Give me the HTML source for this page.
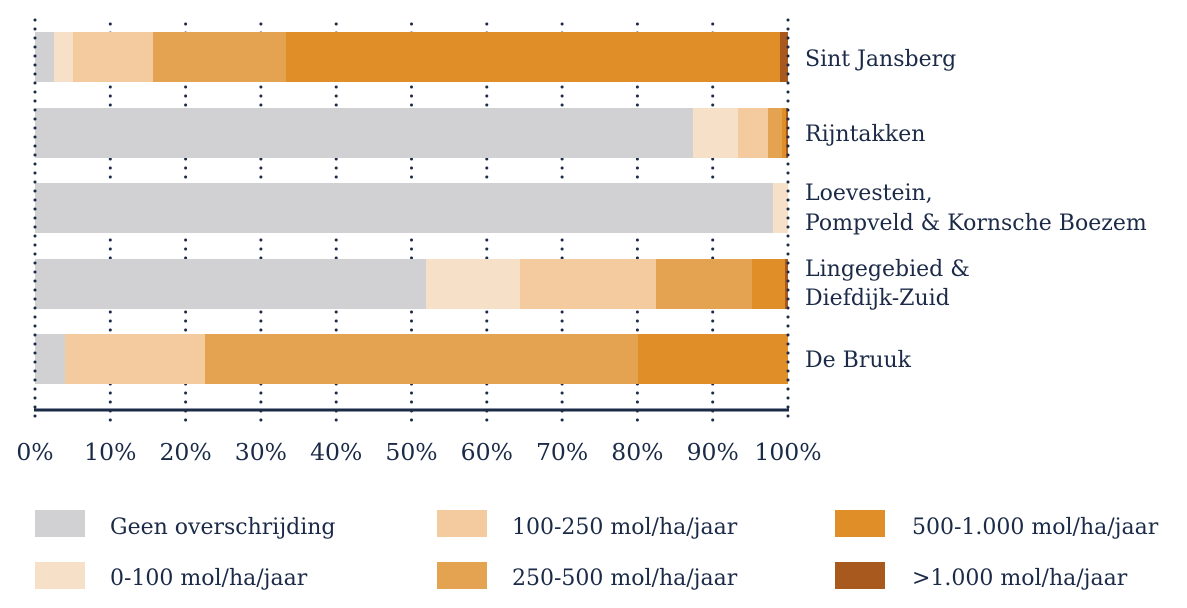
<!DOCTYPE html>
<html><head><meta charset="utf-8"><style>
body{margin:0;width:1187px;height:604px;background:#fff;overflow:hidden;font-family:"DejaVu Serif","Liberation Serif",serif;color:#1b2a47}
</style></head><body>
<svg width="1187" height="604" xmlns="http://www.w3.org/2000/svg">
<g stroke="#1b2a47" stroke-width="3" stroke-dasharray="0 9" stroke-linecap="round">
<line x1="110.3" y1="24" x2="110.3" y2="424"/><line x1="185.6" y1="24" x2="185.6" y2="424"/><line x1="260.9" y1="24" x2="260.9" y2="424"/><line x1="336.2" y1="24" x2="336.2" y2="424"/><line x1="411.5" y1="24" x2="411.5" y2="424"/><line x1="486.8" y1="24" x2="486.8" y2="424"/><line x1="562.1" y1="24" x2="562.1" y2="424"/><line x1="637.4" y1="24" x2="637.4" y2="424"/><line x1="712.7" y1="24" x2="712.7" y2="424"/>
</g>
<rect x="35" y="32" width="19" height="50" fill="#d1d1d3"/><rect x="54" y="32" width="19" height="50" fill="#f7e0c8"/><rect x="73" y="32" width="80" height="50" fill="#f3cb9f"/><rect x="153" y="32" width="133" height="50" fill="#e4a350"/><rect x="286" y="32" width="494" height="50" fill="#df8e28"/><rect x="780" y="32" width="8" height="50" fill="#a85a1e"/>
<rect x="35" y="108" width="658" height="50" fill="#d1d1d3"/><rect x="693" y="108" width="45" height="50" fill="#f7e0c8"/><rect x="738" y="108" width="30" height="50" fill="#f3cb9f"/><rect x="768" y="108" width="14" height="50" fill="#e4a350"/><rect x="782" y="108" width="4" height="50" fill="#df8e28"/><rect x="786" y="108" width="2" height="50" fill="#a85a1e"/>
<rect x="35" y="183" width="738" height="50" fill="#d1d1d3"/><rect x="773" y="183" width="15" height="50" fill="#f7e0c8"/>
<rect x="35" y="259" width="391" height="50" fill="#d1d1d3"/><rect x="426" y="259" width="94" height="50" fill="#f7e0c8"/><rect x="520" y="259" width="136" height="50" fill="#f3cb9f"/><rect x="656" y="259" width="96" height="50" fill="#e4a350"/><rect x="752" y="259" width="33" height="50" fill="#df8e28"/><rect x="785" y="259" width="3" height="50" fill="#a85a1e"/>
<rect x="35" y="334" width="30" height="50" fill="#d1d1d3"/><rect x="65" y="334" width="140" height="50" fill="#f3cb9f"/><rect x="205" y="334" width="433" height="50" fill="#e4a350"/><rect x="638" y="334" width="150" height="50" fill="#df8e28"/>
<g stroke="#1b2a47" stroke-width="3" stroke-dasharray="0 9" stroke-linecap="round">
<line x1="35" y1="20" x2="35" y2="424"/><line x1="788" y1="20" x2="788" y2="424"/>
</g>
<line x1="34" y1="410" x2="789" y2="410" stroke="#1b2a47" stroke-width="3"/>
<g font-size="23.5" fill="#1b2a47" text-anchor="middle">
<text x="35" y="460">0%</text><text x="110.3" y="460">10%</text><text x="185.6" y="460">20%</text><text x="260.9" y="460">30%</text><text x="336.2" y="460">40%</text><text x="411.5" y="460">50%</text><text x="486.8" y="460">60%</text><text x="562.1" y="460">70%</text><text x="637.4" y="460">80%</text><text x="712.7" y="460">90%</text><text x="788" y="460">100%</text>
</g>
<g font-size="22" fill="#1b2a47">
<text x="805" y="66">Sint Jansberg</text>
<text x="805" y="141">Rijntakken</text>
<text x="805" y="200">Loevestein,</text><text x="805" y="230">Pompveld &amp; Kornsche Boezem</text>
<text x="805" y="276">Lingegebied &amp;</text><text x="805" y="305">Diefdijk-Zuid</text>
<text x="805" y="367">De Bruuk</text>
</g>
<rect x="35" y="510" width="50" height="27" fill="#d1d1d3"/><rect x="35" y="562" width="50" height="27" fill="#f7e0c8"/>
<rect x="437" y="510" width="50" height="27" fill="#f3cb9f"/><rect x="437" y="562" width="50" height="27" fill="#e4a350"/>
<rect x="835" y="510" width="50" height="27" fill="#df8e28"/><rect x="835" y="562" width="50" height="27" fill="#a85a1e"/>
<g font-size="22" fill="#1b2a47">
<text x="110" y="534">Geen overschrijding</text><text x="110" y="585">0-100 mol/ha/jaar</text>
<text x="512" y="534">100-250 mol/ha/jaar</text><text x="512" y="585">250-500 mol/ha/jaar</text>
<text x="912" y="534">500-1.000 mol/ha/jaar</text><text x="912" y="585">&gt;1.000 mol/ha/jaar</text>
</g>
</svg>
</body></html>
